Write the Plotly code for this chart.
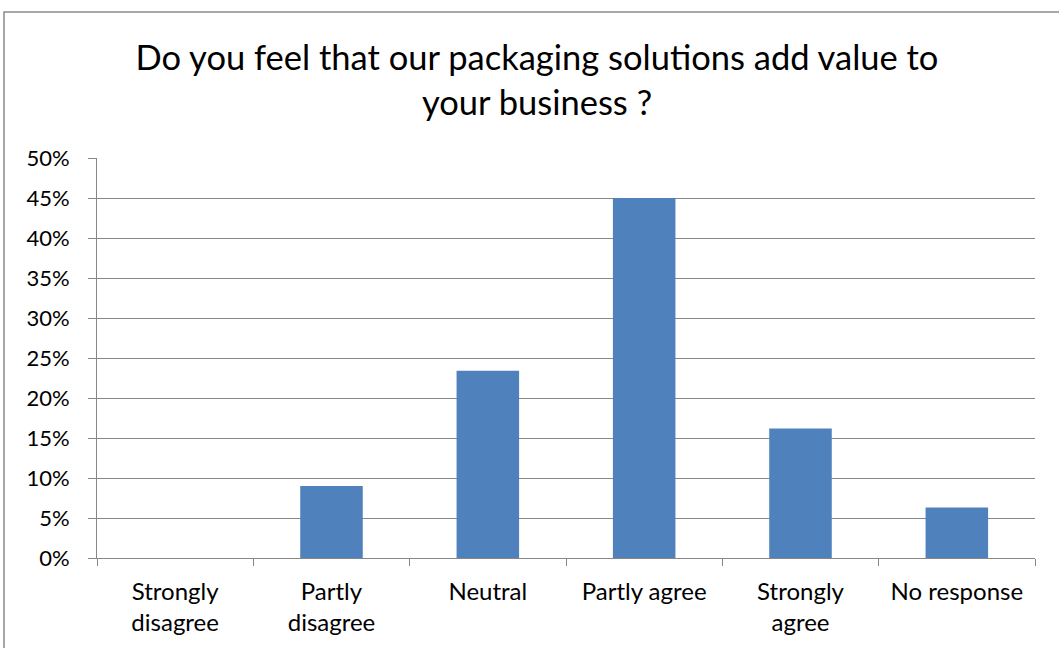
import plotly.graph_objects as go

categories = ["Strongly<br>disagree", "Partly<br>disagree", "Neutral", "Partly agree", "Strongly<br>agree", "No response"]
values = [0.0, 0.09, 0.234, 0.45, 0.162, 0.063]
y_ticks = [0, 0.05, 0.10, 0.15, 0.20, 0.25, 0.30, 0.35, 0.40, 0.45, 0.50]
y_tick_labels = ["0%", "5%", "10%", "15%", "20%", "25%", "30%", "35%", "40%", "45%", "50%"]
title_text = "Do you feel that our packaging solutions add value to<br>your business ?"

FONT = "Lato, Open Sans, sans-serif"
GRID = "#878787"

fig = go.Figure()
fig.add_trace(go.Bar(
    x=categories, y=values,
    marker=dict(color="#4F81BD", line=dict(width=0)),
))

W, H = 1059, 648
L, T = 97, 158
R = W - 1035
B = H - 558
pw, ph = W - L - R, H - T - B

fig.update_layout(
    width=W, height=H,
    margin=dict(l=L, r=R, t=T, b=B),
    paper_bgcolor="white", plot_bgcolor="white",
    bargap=0.6,
    showlegend=False,
    font=dict(family=FONT, color="#000000"),
    title=dict(
        text=title_text,
        x=537 / W, xanchor="center", xref="container",
        y=1 - 70 / H, yanchor="middle", yref="container",
        font=dict(size=34.5, family=FONT, color="#000000"),
    ),
)
fig.update_xaxes(
    type="category",
    showline=True, linecolor=GRID, linewidth=1,
    ticks="outside", ticklen=7, tickcolor=GRID, tickwidth=1,
    tickson="boundaries",
    showgrid=False,
    ticklabelstandoff=12,
    tickfont=dict(size=24, family=FONT, color="#000000"),
    fixedrange=True,
)
fig.update_yaxes(
    range=[0, 0.5],
    tickvals=y_ticks, ticktext=y_tick_labels,
    showline=True, linecolor=GRID, linewidth=1,
    ticks="outside", ticklen=8, tickcolor=GRID, tickwidth=1,
    showgrid=True, gridcolor=GRID, gridwidth=1,
    zeroline=False,
    ticklabelstandoff=14,
    tickfont=dict(size=22, family=FONT, color="#000000"),
    fixedrange=True,
)

# chart outer border (extends past the right and bottom edges of the picture)
x0 = (4 - L) / pw
y1 = 1 + (T - 12) / ph
fig.add_shape(type="rect", xref="paper", yref="paper",
              x0=x0, x1=1.2, y0=-0.5, y1=y1,
              line=dict(color="#8a8a8a", width=1.5), fillcolor="rgba(0,0,0,0)",
              layer="below")

fig.write_html(
    "out.html",
    config={"displayModeBar": False},
    post_script="document.body.style.margin='0';document.body.style.overflow='hidden';",
)
